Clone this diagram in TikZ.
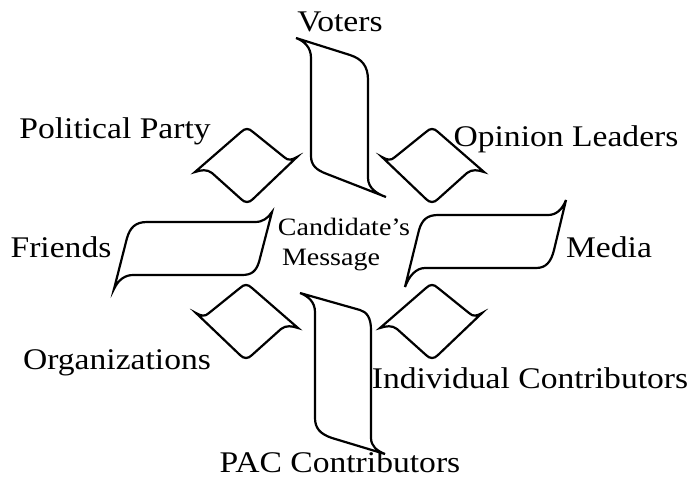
\documentclass[tikz,border=0pt]{standalone}
\usepackage{fontspec}
\setmainfont{Liberation Serif}[FakeStretch=1.12]
\begin{document}
\begin{tikzpicture}[x=1pt,y=-1pt,
  shapeline/.style={draw=black,line width=2.2pt,fill=white},
  lbl/.style={font=\fontsize{30}{32}\selectfont,anchor=base,inner sep=0pt},
  msg/.style={font=\fontsize{25}{28}\selectfont,anchor=base,inner sep=0pt},
  diamondA/.pic={
    \draw[shapeline] (-52,6) -- (-6,-34) .. controls (-2,-38) and (2,-38) .. (6,-34)
      -- (37,-9) .. controls (41,-5) and (45,-6) .. (50,-9)
      -- (6,33) .. controls (2,37) and (-2,37) .. (-6,33)
      -- (-35,7) .. controls (-40,3) and (-46,4) .. (-52,6) -- cycle;
  }]
\useasboundingbox (0,0) rectangle (690,485);

% long shapes
\draw[shapeline] (296,38) -- (350,55) .. controls (362,59) and (368,66) .. (368,80)
  -- (368,178) .. controls (368,188) and (377,194) .. (386,197)
  -- (327,174) .. controls (316,170) and (311,165) .. (311,156)
  -- (311,58) .. controls (311,47) and (304,41) .. (296,38) -- cycle;

\draw[shapeline] (300,293) -- (360,310) .. controls (367,312) and (371,318) .. (371,330)
  -- (371,438) .. controls (371,446) and (377,451) .. (385,454)
  -- (332,438) .. controls (320,434) and (315,428) .. (315,418)
  -- (315,312) .. controls (315,302) and (308,296) .. (300,293) -- cycle;

\draw[shapeline] (114,289) -- (127,238) .. controls (130,228) and (135,222) .. (147,222)
  -- (255,222) .. controls (263,222) and (268,218) .. (272,212)
  -- (259,262) .. controls (256,271) and (252,275) .. (242,275)
  -- (133,275) .. controls (125,275) and (118,280) .. (114,289) -- cycle;

\draw[shapeline] (405,287) -- (419,230) .. controls (422,220) and (427,215) .. (438,215)
  -- (548,215) .. controls (556,215) and (562,210) .. (566,200)
  -- (554,250) .. controls (551,262) and (546,268) .. (536,268)
  -- (425,268) .. controls (416,268) and (409,276) .. (405,287) -- cycle;

% diamonds
\pic at (247,166) {diamondA};
\pic[xscale=-1] at (432,166) {diamondA};
\pic[xscale=-1] at (246,322) {diamondA};
\pic at (432,322) {diamondA};

% labels
\node[lbl] (voters) at (340,31) {Voters};
\node[lbl] (party) at (115,138) {Political Party};
\node[lbl] (opinion) at (566,146) {Opinion Leaders};
\node[lbl] (friends) at (61,257) {Friends};
\node[msg] (cand) at (344,235) {Candidate’s};
\node[msg] (mess) at (331,265) {Message};
\node[lbl] (media) at (609,257) {Media};
\node[lbl] (orgs) at (117,369) {Organizations};
\node[lbl] (indiv) at (530,388) {Individual Contributors};
\node[lbl] (pac) at (340,472) {PAC Contributors};
\end{tikzpicture}
\end{document}
